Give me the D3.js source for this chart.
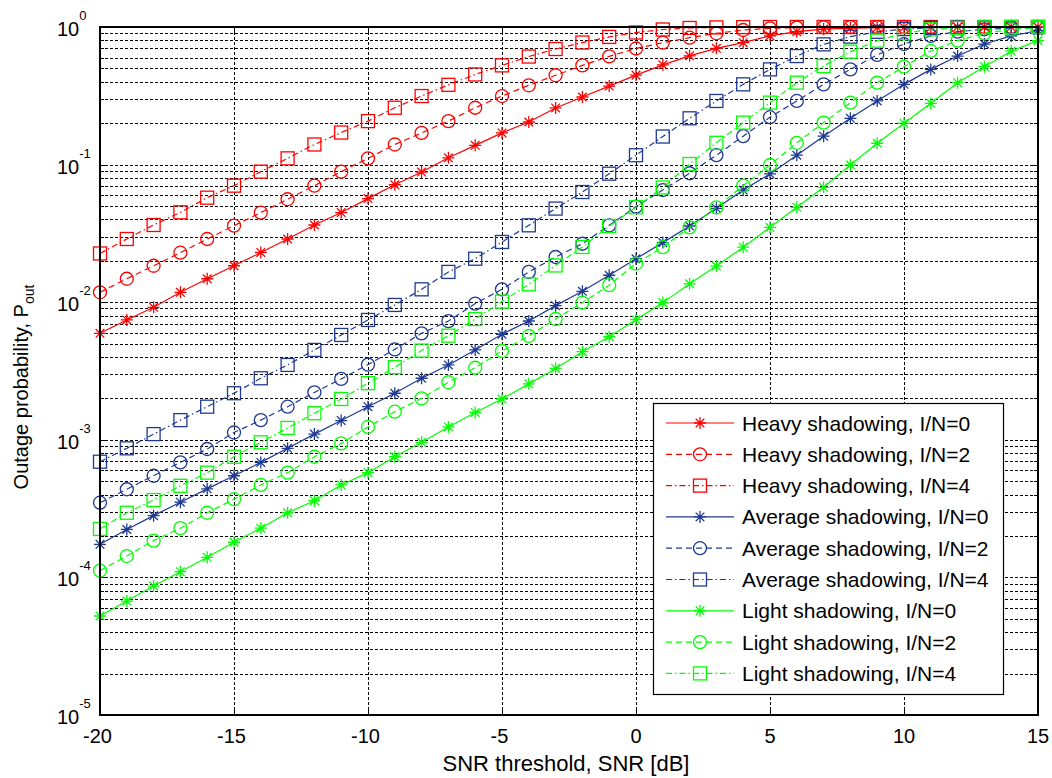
<!DOCTYPE html>
<html><head><meta charset="utf-8">
<script src="https://cdn.jsdelivr.net/npm/d3@7"></script>
<style>
body{margin:0;background:#fff}
svg{display:block}
text{font-family:"Liberation Sans",Arial,sans-serif;fill:#000}
</style>
</head><body>
<svg id="chart" width="1052" height="778"></svg>
<script>
// ---------- data ----------
const snr = [-20,-19,-18,-17,-16,-15,-14,-13,-12,-11,-10,-9,-8,-7,-6,-5,-4,-3,-2,-1,0,1,2,3,4,5,6,7,8,9,10,11,12,13,14,15];
const heavy0 = [0.00594,0.00743,0.00918,0.0118,0.0148,0.0184,0.0230,0.0288,0.0364,0.0448,0.0566,0.0714,0.0883,0.112,0.138,0.170,0.204,0.258,0.310,0.372,0.447,0.531,0.617,0.700,0.769,0.861,0.925,0.966,0.982,0.991,0.995,0.998,0.999,1,1,1];
const heavy2 = [0.0118,0.0148,0.0184,0.0229,0.0288,0.0360,0.0448,0.0560,0.0703,0.0889,0.111,0.140,0.170,0.207,0.259,0.315,0.377,0.446,0.526,0.612,0.698,0.769,0.836,0.900,0.951,0.977,0.989,0.995,0.998,0.999,1,1,1,1,1,1];
const heavy4 = [0.0226,0.0288,0.0364,0.0450,0.0575,0.0703,0.0889,0.111,0.140,0.171,0.207,0.259,0.315,0.380,0.452,0.526,0.610,0.692,0.771,0.847,0.912,0.959,0.984,0.993,0.998,1,1,1,1,1,1,1,1,1,1,1];
const average0 = [1.74e-4,2.23e-4,2.81e-4,3.52e-4,4.4e-4,5.48e-4,6.85e-4,8.67e-4,1.10e-3,1.38e-3,1.74e-3,2.18e-3,2.80e-3,3.50e-3,4.50e-3,5.85e-3,7.30e-3,9.44e-3,0.0120,0.0157,0.0207,0.0271,0.0358,0.0481,0.0653,0.0855,0.117,0.161,0.217,0.290,0.383,0.492,0.615,0.752,0.861,0.940];
const average2 = [3.49e-4,4.37e-4,5.48e-4,6.85e-4,8.57e-4,1.13e-3,1.39e-3,1.74e-3,2.21e-3,2.77e-3,3.52e-3,4.54e-3,5.94e-3,7.29e-3,9.77e-3,0.0124,0.0166,0.0213,0.0266,0.0362,0.0495,0.0653,0.0865,0.117,0.161,0.221,0.290,0.383,0.492,0.627,0.752,0.861,0.925,0.962,0.982,0.991];
const average4 = [6.93e-4,8.67e-4,1.10e-3,1.39e-3,1.74e-3,2.18e-3,2.80e-3,3.50e-3,4.50e-3,5.78e-3,7.43e-3,9.55e-3,0.0124,0.0166,0.0207,0.0274,0.0362,0.0479,0.0632,0.0859,0.117,0.160,0.217,0.290,0.383,0.492,0.615,0.748,0.851,0.923,0.966,0.986,0.995,0.998,1,1];
const light0 = [5.24e-5,6.73e-5,8.65e-5,1.10e-4,1.40e-4,1.80e-4,2.28e-4,2.95e-4,3.61e-4,4.70e-4,5.77e-4,7.53e-4,9.59e-4,1.24e-3,1.58e-3,1.98e-3,2.55e-3,3.30e-3,4.37e-3,5.61e-3,7.46e-3,9.93e-3,0.0136,0.0183,0.0251,0.0350,0.0489,0.0684,0.0993,0.143,0.200,0.279,0.394,0.515,0.670,0.796];
const light2 = [1.12e-4,1.43e-4,1.85e-4,2.28e-4,2.95e-4,3.70e-4,4.70e-4,5.77e-4,7.53e-4,9.42e-4,1.24e-3,1.60e-3,2.00e-3,2.62e-3,3.34e-3,4.42e-3,5.68e-3,7.55e-3,9.93e-3,0.0133,0.0191,0.0251,0.0350,0.0489,0.0703,0.0993,0.144,0.202,0.282,0.394,0.515,0.670,0.796,0.900,0.962,0.989];
const light4 = [2.25e-4,2.95e-4,3.65e-4,4.63e-4,5.77e-4,7.53e-4,9.59e-4,1.22e-3,1.56e-3,1.98e-3,2.58e-3,3.37e-3,4.45e-3,5.71e-3,7.55e-3,0.0101,0.0135,0.0185,0.0252,0.0358,0.0490,0.0682,0.101,0.144,0.202,0.282,0.394,0.521,0.662,0.796,0.900,0.962,0.986,0.995,0.998,1];

const seriesLabels = ["Heavy shadowing, I/N=0","Heavy shadowing, I/N=2","Heavy shadowing, I/N=4",
  "Average shadowing, I/N=0","Average shadowing, I/N=2","Average shadowing, I/N=4",
  "Light shadowing, I/N=0","Light shadowing, I/N=2","Light shadowing, I/N=4"];
const seriesValues = [heavy0,heavy2,heavy4,average0,average2,average4,light0,light2,light4];
const xTickValues = [-20,-15,-10,-5,0,5,10,15];
const yTickExponents = [0,-1,-2,-3,-4,-5];
const xLabel = "SNR threshold, SNR [dB]";
const yLabelMain = "Outage probability, P";
const yLabelSub = "out";

// ---------- style ----------
const colors = {heavy:"#ff0000", average:"#1f3a93", light:"#00ff00"};
const seriesColor = [colors.heavy,colors.heavy,colors.heavy,colors.average,colors.average,colors.average,colors.light,colors.light,colors.light];
const dashFor = ["none","6,4","6,3,1.5,3"];
const markerFor = ["star","circle","square"];

const svg = d3.select("#chart");
const L = 100, R = 1038, T = 27, B = 715;
const x = d3.scaleLinear().domain([-20,15]).range([L,R]);
const y = d3.scaleLog().domain([1e-5,1]).range([B,T]);

// background
svg.append("rect").attr("x",0).attr("y",0).attr("width",1052).attr("height",778).attr("fill","#fff");
svg.append("rect").attr("x",L).attr("y",T).attr("width",R-L).attr("height",B-T).attr("fill","#fff");

// grid
const grid = svg.append("g").attr("stroke","#000").attr("stroke-width",1).attr("stroke-dasharray","3,2").attr("fill","none");
const minorY = [];
for (let e=-5; e<0; e++) for (let k=1; k<10; k++) minorY.push(k*Math.pow(10,e));
minorY.push(1);
minorY.forEach(v=>{
  const yy = Math.round(y(v))+0.5;
  if (yy<=T+1 || yy>=B-1) return;
  grid.append("line").attr("x1",L).attr("x2",R).attr("y1",yy).attr("y2",yy);
});
xTickValues.forEach(v=>{
  const xx = Math.round(x(v))+0.5;
  if (xx<=L+1 || xx>=R-1) return;
  grid.append("line").attr("x1",xx).attr("x2",xx).attr("y1",T).attr("y2",B);
});

// ticks (inner, all four sides)
const ticks = svg.append("g").attr("stroke","#000").attr("stroke-width",1);
xTickValues.forEach(v=>{
  const xx = Math.round(x(v))+0.5;
  ticks.append("line").attr("x1",xx).attr("x2",xx).attr("y1",B).attr("y2",B-8);
  ticks.append("line").attr("x1",xx).attr("x2",xx).attr("y1",T).attr("y2",T+8);
});
minorY.forEach(v=>{
  const yy = Math.round(y(v))+0.5;
  const isMajor = Math.abs(Math.log10(v)-Math.round(Math.log10(v)))<1e-9;
  const len = isMajor?8:4;
  ticks.append("line").attr("x1",L).attr("x2",L+len).attr("y1",yy).attr("y2",yy);
  ticks.append("line").attr("x1",R).attr("x2",R-len).attr("y1",yy).attr("y2",yy);
});

// series
function drawMarker(g, type, cx, cy, color){
  if (type==="star"){
    const r=6, d=4.3;
    const p = `M${cx-r},${cy}L${cx+r},${cy}M${cx},${cy-r}L${cx},${cy+r}M${cx-d},${cy-d}L${cx+d},${cy+d}M${cx-d},${cy+d}L${cx+d},${cy-d}`;
    g.append("path").attr("d",p).attr("stroke",color).attr("stroke-width",1.3).attr("fill","none");
  } else if (type==="circle"){
    g.append("circle").attr("cx",cx).attr("cy",cy).attr("r",6.5).attr("stroke",color).attr("stroke-width",1.3).attr("fill","none");
  } else {
    g.append("rect").attr("x",cx-6.5).attr("y",cy-6.5).attr("width",13).attr("height",13).attr("stroke",color).attr("stroke-width",1.3).attr("fill","none");
  }
}
const line = d3.line().x(d=>x(d[0])).y(d=>y(d[1]));
seriesValues.forEach((vals,i)=>{
  const g = svg.append("g");
  const pts = snr.map((s,j)=>[s,vals[j]]);
  g.append("path").attr("d",line(pts)).attr("fill","none").attr("stroke",seriesColor[i])
    .attr("stroke-width",1.2).attr("stroke-dasharray",dashFor[i%3]);
  pts.forEach(p=>drawMarker(g, markerFor[i%3], x(p[0]), y(p[1]), seriesColor[i]));
});

// axes box
svg.append("rect").attr("x",L).attr("y",T).attr("width",R-L).attr("height",B-T)
  .attr("fill","none").attr("stroke","#000").attr("stroke-width",2);

// tick labels
xTickValues.forEach(v=>{
  svg.append("text").attr("x",x(v)-(v<0?2.5:0)).attr("y",B+28).attr("text-anchor","middle")
    .attr("font-size",20).text(v);
});
yTickExponents.forEach(e=>{
  const yy = y(Math.pow(10,e));
  const t = svg.append("text").attr("x",57).attr("y",yy+9).attr("font-size",20);
  t.append("tspan").text("10");
  t.append("tspan").attr("font-size",13).attr("dy",-16).text(e);
});

// axis labels
svg.append("text").attr("x",566).attr("y",771).attr("text-anchor","middle").attr("font-size",22).text(xLabel);
const yl = svg.append("text").attr("transform",`translate(28,${(T+B)/2+16}) rotate(-90)`).attr("text-anchor","middle").attr("font-size",20);
yl.append("tspan").text(yLabelMain);
yl.append("tspan").attr("font-size",14).attr("dy",6).text(yLabelSub);

// legend
const lgX = 653, lgY = 403, lgW = 350, lgH = 291, rowH = 31.3;
const lg = svg.append("g");
lg.append("rect").attr("x",lgX+0.5).attr("y",lgY+0.5).attr("width",lgW).attr("height",lgH)
  .attr("fill","#fff").attr("stroke","#000").attr("stroke-width",1.2);
seriesLabels.forEach((lab,i)=>{
  const cy = lgY + 20 + i*rowH;
  lg.append("line").attr("x1",666).attr("x2",734).attr("y1",cy).attr("y2",cy)
    .attr("stroke",seriesColor[i]).attr("stroke-width",1.2).attr("stroke-dasharray",dashFor[i%3]);
  drawMarker(lg, markerFor[i%3], 700, cy, seriesColor[i]);
  lg.append("text").attr("x",742).attr("y",cy+7.5).attr("font-size",21).text(lab);
});
</script>
</body></html>
